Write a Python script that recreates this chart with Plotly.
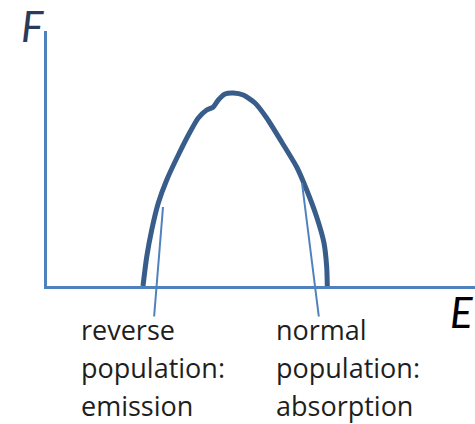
import plotly.graph_objects as go

# Energy distribution curve F(E) (arbitrary units)
E_curve = [96, 99.7, 104.7, 111.3, 119.7, 131.3, 143, 151.3, 159.7, 166.3, 171.3,
           178, 186.3, 196.3, 208, 219.7, 234.7, 249.7, 259.7, 269.7, 277, 279.7, 280.3]
F_curve = [0, 29, 56, 83, 106, 131, 154, 168, 176, 179, 186,
           192, 193, 191, 183, 168, 144, 119, 96, 69, 43, 19, 0]

# pointer lines: head on the curve, tail near the label
pointer_head_E = [116, 255]
pointer_head_F = [79, 103]
pointer_tail_E = [107, 272]
pointer_tail_F = [-32, -32]
label_lines = [["reverse", "population:", "emission"],
               ["normal", "population:", "absorption"]]
label_E = [33, 228]

AXIS_COLOR = "#4f81bd"
CURVE_COLOR = "#385d8a"
LINE_STEP = 38 / 255.0   # paper units per text line

fig = go.Figure()
fig.add_trace(go.Scatter(x=E_curve, y=F_curve, mode="lines",
                         line=dict(color=CURVE_COLOR, width=5, shape="spline", smoothing=0.6),
                         hoverinfo="skip", showlegend=False))

annotations = []
for hx, hy, tx, ty in zip(pointer_head_E, pointer_head_F, pointer_tail_E, pointer_tail_F):
    annotations.append(dict(x=hx, y=hy, xref="x", yref="y", ax=tx, ay=ty, axref="x", ayref="y",
                            text="", showarrow=True, arrowhead=0, arrowwidth=2,
                            arrowcolor=AXIS_COLOR, standoff=0, startstandoff=0))
for lx, lines in zip(label_E, label_lines):
    for k, txt in enumerate(lines):
        annotations.append(dict(x=lx - 1, y=-0.092 - k * LINE_STEP, xref="x", yref="paper",
                                xanchor="left", yanchor="top",
                                text=txt, showarrow=False, align="left",
                                font=dict(family="Open Sans", size=27, color="#1e1e1e")))
annotations.append(dict(x=-0.066, y=1.125, xref="paper", yref="paper", xanchor="left", yanchor="top",
                        text="<i>F</i>", showarrow=False,
                        font=dict(family="Lato", size=42, color="#2a3b5a")))
annotations.append(dict(x=0.938, y=0.005, xref="paper", yref="paper", xanchor="left", yanchor="top",
                        text="<i>E</i>", showarrow=False,
                        font=dict(family="Lato", size=42, color="#000000")))

axis_common = dict(showline=True, linecolor=AXIS_COLOR, linewidth=3, showgrid=False,
                   zeroline=False, showticklabels=False, ticks="", fixedrange=True)
fig.update_layout(
    width=475, height=424,
    margin=dict(l=47, r=0, t=31, b=138, pad=0),
    paper_bgcolor="white", plot_bgcolor="white",
    xaxis=dict(range=[0, 428], **axis_common),
    yaxis=dict(range=[0, 255], **axis_common),
    annotations=annotations,
)
fig.write_html("out.html", config={"displayModeBar": False},
               post_script="document.body.style.margin='0px';document.body.style.padding='0px';")
